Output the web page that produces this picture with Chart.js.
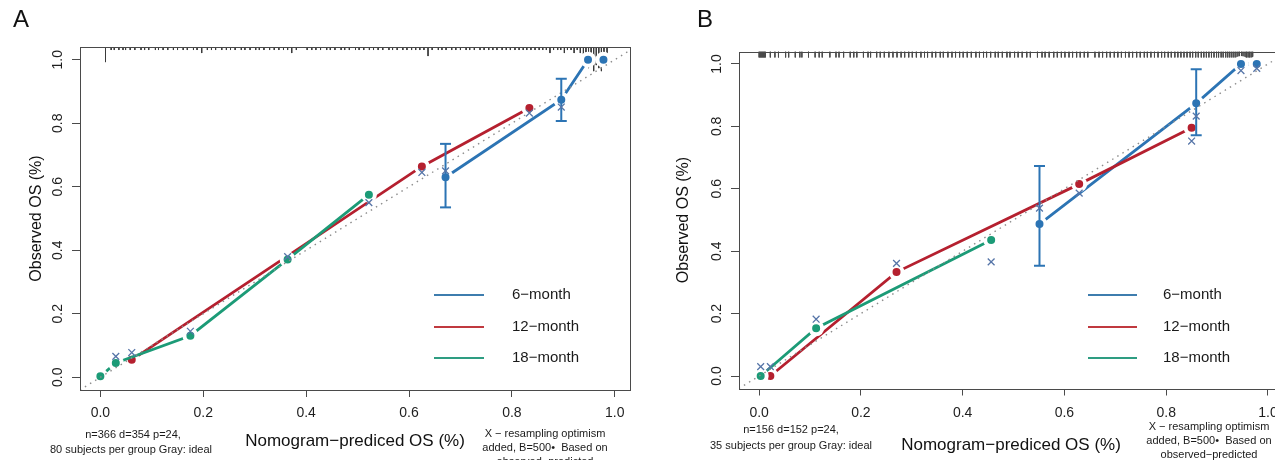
<!DOCTYPE html>
<html>
<head>
<meta charset="utf-8">
<script src="https://cdn.jsdelivr.net/npm/chart.js@4.4.1/dist/chart.umd.min.js"></script>
<style>
html,body{margin:0;padding:0;background:#ffffff;overflow:hidden;width:1275px;height:460px;}
#wa{position:absolute;left:0;top:0;width:640px;height:460px;}
#wb{position:absolute;left:640px;top:0;width:700px;height:460px;}
canvas{display:block;}
</style>
</head>
<body>
<div id="wa"><canvas id="ca" width="640" height="460"></canvas></div>
<div id="wb"><canvas id="cb" width="700" height="460"></canvas></div>
<script>
// ---------- shared axis data ----------
const tickValues = [0, 0.2, 0.4, 0.6, 0.8, 1.0];
const tickLabels = ['0.0', '0.2', '0.4', '0.6', '0.8', '1.0'];
const seriesNames = ['6\u2212month', '12\u2212month', '18\u2212month'];
const idealLine = [-0.04, 1.04];

// ---------- Panel A ----------
const a6_pred = [0.671, 0.896, 0.948, 0.978];
const a6_obs  = [0.630, 0.874, 1.000, 1.000];
const a6_errAt = [0.671, 0.896];
const a6_errLo = [0.535, 0.807];
const a6_errHi = [0.735, 0.940];
const a12_pred = [0.061, 0.625, 0.834];
const a12_obs  = [0.055, 0.664, 0.848];
const a18_pred = [0.000, 0.030, 0.175, 0.364, 0.522];
const a18_obs  = [0.003, 0.045, 0.131, 0.371, 0.575];
const aOpt_pred = [0.030, 0.061, 0.175, 0.364, 0.522, 0.625, 0.671, 0.834, 0.896];
const aOpt_obs  = [0.066, 0.078, 0.145, 0.380, 0.550, 0.645, 0.650, 0.832, 0.851];
const aRug_x = [0.010, 0.021, 0.027, 0.036, 0.044, 0.049, 0.058, 0.067, 0.079, 0.086, 0.094, 0.107, 0.113, 0.122, 0.131, 0.142,
  0.150, 0.161, 0.169, 0.181, 0.188, 0.197, 0.208, 0.216, 0.224, 0.236, 0.245, 0.253, 0.262, 0.274, 0.281, 0.291, 0.302,
  0.309, 0.318, 0.329, 0.338, 0.347, 0.356, 0.364, 0.372, 0.381, 0.402, 0.411, 0.419, 0.428, 0.440, 0.447, 0.456, 0.468,
  0.475, 0.484, 0.496, 0.503, 0.512, 0.523, 0.531, 0.540, 0.549, 0.561, 0.568, 0.577, 0.588, 0.596, 0.605, 0.613, 0.621,
  0.629, 0.637, 0.645, 0.657, 0.664, 0.672, 0.683, 0.691, 0.700, 0.711, 0.718, 0.727, 0.738, 0.746, 0.755, 0.763, 0.771,
  0.781, 0.789, 0.797, 0.806, 0.814, 0.822, 0.829, 0.837, 0.845, 0.853, 0.860, 0.867, 0.874, 0.881, 0.889, 0.895, 0.902,
  0.908, 0.915, 0.921, 0.927, 0.933, 0.939, 0.944, 0.949, 0.954, 0.959, 0.964, 0.969, 0.974, 0.979, 0.985];
const aRug_n = [5, 1, 1, 1, 1, 1, 1, 1, 1, 1, 1, 1, 1, 1, 1, 1,
  1, 1, 1, 1, 1, 2, 1, 1, 1, 1, 1, 1, 1, 1, 1, 1, 1,
  1, 1, 1, 1, 1, 1, 1, 2, 1, 1, 1, 1, 1, 1, 1, 1, 1,
  1, 1, 1, 1, 1, 1, 1, 1, 1, 1, 1, 1, 1, 1, 1, 1, 1,
  1, 3, 1, 1, 1, 1, 1, 1, 1, 1, 1, 1, 1, 1, 1, 1, 1,
  1, 1, 1, 1, 1, 1, 1, 1, 1, 1, 1, 1, 2, 1, 1, 1, 2,
  1, 1, 2, 1, 2, 3, 5, 7, 6, 8, 6, 7, 8, 6, 5];

// ---------- Panel B ----------
const b6_pred = [0.551, 0.859, 0.947, 0.978];
const b6_obs  = [0.487, 0.874, 1.000, 1.000];
const b6_errAt = [0.551, 0.859];
const b6_errLo = [0.353, 0.772];
const b6_errHi = [0.673, 0.983];
const b12_pred = [0.022, 0.270, 0.629, 0.850];
const b12_obs  = [0.000, 0.333, 0.615, 0.796];
const b18_pred = [0.003, 0.112, 0.456];
const b18_obs  = [0.000, 0.153, 0.436];
const bOpt_pred = [0.003, 0.022, 0.112, 0.270, 0.456, 0.551, 0.629, 0.850, 0.859, 0.947, 0.978];
const bOpt_obs  = [0.030, 0.030, 0.182, 0.361, 0.366, 0.538, 0.586, 0.753, 0.833, 0.979, 0.986];
const bRug_x = [0.000, 0.002, 0.004, 0.006, 0.008, 0.010, 0.012, 0.022, 0.031, 0.038, 0.052, 0.058, 0.071, 0.080, 0.084,
  0.097, 0.110, 0.118, 0.124, 0.139, 0.151, 0.157, 0.166, 0.179, 0.186, 0.192, 0.205, 0.214, 0.219, 0.231, 0.238, 0.246,
  0.255, 0.263, 0.271, 0.279, 0.286, 0.294, 0.301, 0.309, 0.318, 0.325, 0.331, 0.340, 0.347, 0.356, 0.362, 0.371, 0.379,
  0.386, 0.394, 0.401, 0.409, 0.417, 0.426, 0.433, 0.441, 0.447, 0.455, 0.464, 0.470, 0.478, 0.487, 0.493, 0.502, 0.509,
  0.517, 0.526, 0.533, 0.547, 0.556, 0.562, 0.570, 0.579, 0.586, 0.594, 0.601, 0.609, 0.616, 0.624, 0.631, 0.639, 0.646,
  0.660, 0.668, 0.675, 0.683, 0.690, 0.698, 0.705, 0.712, 0.720, 0.727, 0.734, 0.742, 0.749, 0.757, 0.763, 0.770, 0.777,
  0.784, 0.791, 0.797, 0.804, 0.810, 0.817, 0.823, 0.829, 0.835, 0.841, 0.847, 0.852, 0.858, 0.863, 0.869, 0.874, 0.879,
  0.884, 0.889, 0.894, 0.899, 0.903, 0.908, 0.912, 0.917, 0.921, 0.925, 0.929, 0.933, 0.937, 0.941, 0.944, 0.948, 0.951,
  0.955, 0.958, 0.961, 0.964, 0.967, 0.970];

// ---------- styling ----------
const FONT = '"Liberation Sans", Arial, Helvetica, sans-serif';
const COLORS = ['#2C74B4', '#B5202F', '#1C9B77'];
const LEGEND_COLORS = ['#3E7DAE', '#C0393F', '#2E9D82'];
const OPT_COLOR = '#5675A8';
const X_MIN = -0.0396, X_MAX = 1.0296, Y_MIN = -0.04, Y_MAX = 1.04;
const RUG_UNIT = 0.0095;

function pairs(xs, ys) { return xs.map((x, i) => ({ x: x, y: ys[i] })); }
function errData(at, lo, hi) {
  const d = [];
  at.forEach((x, i) => { d.push({ x: x, y: lo[i] }, { x: x, y: hi[i] }, { x: x, y: null }); });
  return d;
}
function rugData(xs, ns, unit) {
  const d = [];
  xs.forEach((x, i) => { d.push({ x: x, y: Y_MAX }, { x: x, y: Y_MAX - ns[i] * unit }, { x: x, y: null }); });
  return d;
}

const decor = {
  id: 'decor',
  afterDraw(chart, args, o) {
    const ctx = chart.ctx, a = chart.chartArea;
    ctx.save();
    ctx.strokeStyle = '#4a4a4a'; ctx.lineWidth = 1;
    ctx.strokeRect(Math.round(a.left) + 0.5, Math.round(a.top) + 0.5, Math.round(a.right - a.left), Math.round(a.bottom - a.top));
    ctx.fillStyle = '#111'; ctx.textBaseline = 'middle'; ctx.textAlign = 'center';
    ctx.font = '24px ' + FONT;
    ctx.fillText(o.letter, o.letterX, o.letterY);
    ctx.font = '15px ' + FONT; ctx.textAlign = 'left';
    seriesNames.forEach((n, i) => {
      const y = o.legY[i];
      ctx.strokeStyle = LEGEND_COLORS[i]; ctx.lineWidth = 2;
      ctx.beginPath(); ctx.moveTo(o.legX0, y); ctx.lineTo(o.legX1, y); ctx.stroke();
      ctx.fillStyle = '#1a1a1a';
      ctx.fillText(n, o.legTextX, y);
    });
    ctx.font = '11px ' + FONT; ctx.textAlign = 'center'; ctx.fillStyle = '#1a1a1a';
    o.notes.forEach(nt => ctx.fillText(nt[0], nt[1], nt[2]));
    ctx.restore();
  }
};

function buildChart(id, p) {
  const datasets = [];
  datasets.push({ type: 'line', data: rugData(p.rugX, p.rugN, RUG_UNIT), borderColor: p.rugColor, borderWidth: 1,
    pointRadius: 0, spanGaps: false, order: 20 });
  p.series.forEach((s, k) => datasets.push({ type: 'line', data: pairs(s[0], s[1]), borderColor: COLORS[k], borderWidth: 2.8,
    pointRadius: 6, pointBorderWidth: 4, pointBorderColor: '#ffffff', pointBackgroundColor: COLORS[k], tension: 0, order: 10 - k }));
  datasets.push({ type: 'line', data: pairs(idealLine, idealLine), borderColor: '#8c8c8c', borderWidth: 1.4,
    borderDash: [1.5, 4.5], pointRadius: 0, order: 4 });
  datasets.push({ type: 'line', data: errData(p.errAt, p.errLo, p.errHi), borderColor: COLORS[0], borderWidth: 2,
    pointStyle: 'line', pointRadius: 5.5, pointBorderWidth: 2, pointBorderColor: COLORS[0], spanGaps: false, order: 3 });
  datasets.push({ type: 'scatter', data: pairs(p.optX, p.optY), pointStyle: 'crossRot', pointRadius: 4.8,
    pointBorderWidth: 1.3, pointBorderColor: OPT_COLOR, pointBackgroundColor: OPT_COLOR, showLine: false, order: 1 });

  return new Chart(document.getElementById(id), {
    type: 'line',
    data: { datasets: datasets },
    plugins: [decor],
    options: {
      responsive: false, animation: false, events: [],
      layout: { padding: { left: 0, right: p.padRight, top: p.padTop, bottom: 0 } },
      plugins: { legend: { display: false }, tooltip: { enabled: false }, decor: p.decor },
      scales: {
        x: {
          type: 'linear', position: 'bottom', min: X_MIN, max: X_MAX,
          afterBuildTicks: s => { s.ticks = tickValues.map(v => ({ value: v })); },
          afterFit: s => { s.height = p.xAxisH; },
          ticks: { callback: (v, i) => tickLabels[i], autoSkip: false, maxRotation: 0, minRotation: 0,
            padding: p.xTickPad, color: '#1e1e1e', font: { family: FONT, size: 14 } },
          grid: { drawOnChartArea: false, drawTicks: true, tickLength: 7, color: '#4a4a4a', lineWidth: 1 },
          border: { display: false },
          title: { display: true, text: 'Nomogram\u2212prediced OS (%)', color: '#111',
            font: { family: FONT, size: 17 }, padding: { top: 0, bottom: p.xTitlePad } }
        },
        y: {
          type: 'linear', position: 'left', min: Y_MIN, max: Y_MAX,
          afterBuildTicks: s => { s.ticks = tickValues.map(v => ({ value: v })); },
          afterFit: s => { s.width = p.yAxisW; },
          ticks: { callback: (v, i) => tickLabels[i], autoSkip: false, minRotation: 90, maxRotation: 90,
            crossAlign: 'center', padding: 4, color: '#1e1e1e', font: { family: FONT, size: 14 } },
          grid: { drawOnChartArea: false, drawTicks: true, tickLength: 8, color: '#4a4a4a', lineWidth: 1 },
          border: { display: false },
          title: { display: true, text: 'Observed OS (%)', color: '#111',
            font: { family: FONT, size: 16 }, padding: { top: p.yTitlePad, bottom: 0 } }
        }
      }
    }
  });
}

buildChart('ca', {
  rugX: aRug_x, rugN: aRug_n, rugColor: '#3a3a3a',
  series: [[a6_pred, a6_obs], [a12_pred, a12_obs], [a18_pred, a18_obs]],
  errAt: a6_errAt, errLo: a6_errLo, errHi: a6_errHi,
  optX: aOpt_pred, optY: aOpt_obs,
  padRight: 640 - 633, padTop: 47, xAxisH: 70, yAxisW: 80,
  xTickPad: 7.6, xTitlePad: 8, yTitlePad: 27,
  decor: {
    letter: 'A', letterX: 21, letterY: 20,
    legX0: 434, legX1: 484, legY: [295, 327, 358], legTextX: 512,
    notes: [['n=366 d=354 p=24,', 133, 435], ['80 subjects per group Gray: ideal', 131, 450],
            ['X \u2212 resampling optimism', 545, 434], ['added, B=500\u2022  Based on', 545, 448],
            ['observed\u2212predicted', 545, 462]]
  }
});

buildChart('cb', {
  rugX: bRug_x, rugN: bRug_x.map(() => 2), rugColor: '#4a4a4a',
  series: [[b6_pred, b6_obs], [b12_pred, b12_obs], [b18_pred, b18_obs]],
  errAt: b6_errAt, errLo: b6_errLo, errHi: b6_errHi,
  optX: bOpt_pred, optY: bOpt_obs,
  padRight: 700 - 643, padTop: 51.5, xAxisH: 71.5, yAxisW: 99,
  xTickPad: 9, xTitlePad: 4, yTitlePad: 34,
  decor: {
    letter: 'B', letterX: 65, letterY: 20,
    legX0: 448, legX1: 497, legY: [295, 327, 358], legTextX: 523,
    notes: [['n=156 d=152 p=24,', 151, 430], ['35 subjects per group Gray: ideal', 151, 446],
            ['X \u2212 resampling optimism', 569, 427], ['added, B=500\u2022  Based on', 569, 441],
            ['observed\u2212predicted', 569, 455]]
  }
});
</script>
</body>
</html>
